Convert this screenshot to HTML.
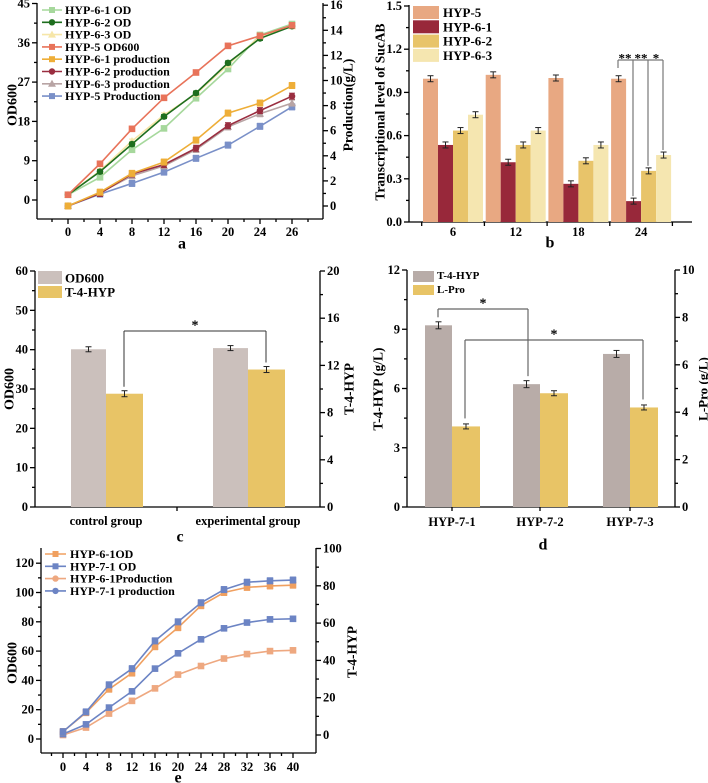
<!DOCTYPE html>
<html><head><meta charset="utf-8">
<style>
html,body{margin:0;padding:0;background:#fff;}
svg{display:block;font-family:"Liberation Serif",serif;font-weight:bold;}
</style></head>
<body>
<svg id="chart" width="708" height="783" viewBox="0 0 708 783" xmlns="http://www.w3.org/2000/svg"></svg>
<script>
// ---------- Panel a data ----------
const aTimes = ['0','4','8','12','16','20','24','26'];
const aOD61 = [1.2,5.2,11.5,16.4,23.3,30.0,37.8,40.3];
const aOD62 = [1.2,6.5,12.8,19.1,24.5,31.4,37.0,39.8];
const aOD63 = [1.2,6.7,13.5,19.5,24.3,31.0,37.5,39.8];
const aOD5 = [1.2,8.3,16.3,23.4,29.2,35.3,37.6,40.0];
const aP61 = [0,1.1,2.6,3.5,5.25,7.4,8.2,9.6];
const aP62 = [0,1.0,2.55,3.3,4.6,6.4,7.6,8.75];
const aP63 = [0,1.05,2.4,3.2,4.5,6.3,7.35,8.2];
const aP5 = [0,0.95,1.8,2.7,3.8,4.85,6.35,7.9];
const aLeftTicks = [0,9,18,27,36,45];
const aRightTicks = [0,2,4,6,8,10,12,14,16];
// ---------- Panel b data ----------
const bTimes = ['6','12','18','24'];
const bHYP5 = [0.995,1.022,1.0,0.995];
const bHYP61 = [0.535,0.415,0.265,0.145];
const bHYP62 = [0.635,0.535,0.425,0.355];
const bHYP63 = [0.745,0.635,0.535,0.465];
const bTicks = [0,0.3,0.6,0.9,1.2,1.5];
// ---------- Panel c data ----------
const cGroups = ['control group','experimental group'];
const cOD = [40.1,40.4];
const cHYP = [9.6,11.65];
const cLeftTicks = [0,10,20,30,40,50,60];
const cRightTicks = [0,4,8,12,16,20];
// ---------- Panel d data ----------
const dGroups = ['HYP-7-1','HYP-7-2','HYP-7-3'];
const dHYP = [9.2,6.22,7.75];
const dPro = [3.4,4.8,4.2];
const dLeftTicks = [0,3,6,9,12];
const dRightTicks = [0,2,4,6,8,10];
// ---------- Panel e data ----------
const eTimes = ['0','4','8','12','16','20','24','28','32','36','40'];
const eOD61 = [5,18,34,45,63,76,91,100,103.5,104.5,105];
const eOD71 = [5,18.5,37,48,67,80,93,102,107,108,108.5];
const eP61 = [0,4,11.5,18.3,25,32.4,37,41,43.4,45,45.4];
const eP71 = [0.5,5.7,14.7,23.4,35.6,43.8,51.3,57.2,60.3,62,62.3];
const eLeftTicks = [0,20,40,60,80,100,120];
const eRightTicks = [0,20,40,60,80,100];

const svg = document.getElementById('chart');
const NS = 'http://www.w3.org/2000/svg';
function mk(tag, attrs, name){
  const e = document.createElementNS(NS, tag);
  for (const k in attrs) e.setAttribute(k, attrs[k]);
  
  
  svg.appendChild(e);
  return e;
}
function line(x1,y1,x2,y2,name,stroke,w){
  return mk('line',{x1:x1,y1:y1,x2:x2,y2:y2,stroke:stroke||'#000','stroke-width':w||1.3},name);
}
function text(x,y,s,name,size,anchor,rot){
  const a = {x:x,y:y,'font-size':size||13,'text-anchor':anchor||'middle','dominant-baseline':'central',fill:'#000'};
  if (rot) a.transform = 'rotate(-90 '+x+' '+y+')';
  const t = mk('text',a,name);
  t.textContent = s;
  return t;
}
function errbar(x,y,h,name,col){
  line(x,y-h,x,y+h,name,col||'#222',1);
  line(x-3,y-h,x+3,y-h,name+'-cap',col||'#222',1);
  line(x-3,y+h,x+3,y+h,name+'-cap',col||'#222',1);
}
function yAxis(x,yTop,yBot,ticks,scale,side,fmt,name){
  line(x,yTop,x,yBot,name+'-line');
  ticks.forEach(function(v,i){
    const y = scale(v);
    const d = side==='left'? -5 : 5;
    line(x,y,x+d,y,name+'-tick');
    text(side==='left'? x-7 : x+7, y, fmt(v), name+'-label', 12.5, side==='left'?'end':'start');
    if (i < ticks.length-1){
      const ym = (y + scale(ticks[i+1]))/2;
      line(x,ym,x+d*0.6,ym,name+'-minor-tick');
    }
  });
}
function series(xs, vals, ys, col, name, marker, errs){
  const pts = vals.map(function(v,i){return xs(i)+','+ys(v);}).join(' ');
  mk('polyline',{points:pts,fill:'none',stroke:col,'stroke-width':1.6},name+'-line');
  vals.forEach(function(v,i){
    if (errs) errbar(xs(i), ys(v), errs, name+'-error', col);
    if (marker==='circle') mk('circle',{cx:xs(i),cy:ys(v),r:3.3,fill:col},name+'-point');
    else if (marker==='tri') mk('polygon',{points:(xs(i))+','+(ys(v)-4)+' '+(xs(i)-4)+','+(ys(v)+3)+' '+(xs(i)+4)+','+(ys(v)+3),fill:col},name+'-point');
    else mk('rect',{x:xs(i)-3.3,y:ys(v)-3.3,width:6.6,height:6.6,fill:col},name+'-point');
  });
}

// ================= Panel a =================
const xa = function(i){return 68 + 32*i;};
const ya = function(v){return 200 - v*39.3/9;};
const yaR = function(v){return 206 - v*12.55;};
yAxis(37,3,219,aLeftTicks,ya,'left',String,'a-left-axis');
yAxis(323,3,219,aRightTicks,yaR,'right',String,'a-right-axis');
line(37,219,323,219,'a-x-axis');
aTimes.forEach(function(t,i){
  line(xa(i),219,xa(i),224,'a-x-tick');
  line(xa(i)-16,219,xa(i)-16,222,'a-x-minor-tick');
  text(xa(i),232,t,'a-x-label',12.5);
});
line(xa(7)+16,219,xa(7)+16,222,'a-x-minor-tick');
text(13,105,'OD600','a-y-axis-title',14,'middle',true);
text(348,105,'Production(g/L)','a-right-axis-title',13.5,'middle',true);
text(182,244,'a','panel-a-label',16);
const aCols = {od61:'#a6d89c',od62:'#1e6e1e',od63:'#f6e6a8',od5:'#e8735a',p61:'#eeae38',p62:'#9a2e40',p63:'#b8a4a4',p5:'#7a90c8'};
series(xa,aP5,yaR,aCols.p5,'a-hyp5-production','square',3);
series(xa,aP63,yaR,aCols.p63,'a-hyp63-production','tri',3);
series(xa,aP62,yaR,aCols.p62,'a-hyp62-production','circle',3);
series(xa,aP61,yaR,aCols.p61,'a-hyp61-production','square',3);
series(xa,aOD61,ya,aCols.od61,'a-hyp61-od','square',2);
series(xa,aOD63,ya,aCols.od63,'a-hyp63-od','tri',2);
series(xa,aOD62,ya,aCols.od62,'a-hyp62-od','circle',2);
series(xa,aOD5,ya,aCols.od5,'a-hyp5-od600','square',2);
const aLeg = [['HYP-6-1 OD',aCols.od61,'square'],['HYP-6-2 OD',aCols.od62,'circle'],['HYP-6-3 OD',aCols.od63,'tri'],['HYP-5 OD600',aCols.od5,'square'],['HYP-6-1  production',aCols.p61,'square'],['HYP-6-2  production',aCols.p62,'circle'],['HYP-6-3 production',aCols.p63,'tri'],['HYP-5 Production',aCols.p5,'square']];
aLeg.forEach(function(l,i){
  const y = 10 + i*12.3;
  line(42,y,62,y,'a-legend-line',l[1],1.6);
  if (l[2]==='circle') mk('circle',{cx:52,cy:y,r:3.2,fill:l[1]},'a-legend-marker');
  else if (l[2]==='tri') mk('polygon',{points:'52,'+(y-4)+' 48,'+(y+3)+' 56,'+(y+3),fill:l[1]},'a-legend-marker');
  else mk('rect',{x:49,y:y-3,width:6,height:6,fill:l[1]},'a-legend-marker');
  text(65,y,l[0],'a-legend-entry',12,'start');
});

// ================= Panel b =================
const yb = function(v){return 222 - v*144;};
const xbC = function(i){return 453 + 62.7*i;};
yAxis(409,5,222,bTicks,yb,'left',function(v){return v.toFixed(1);},'b-left-axis');
line(409,222,692,222,'b-x-axis');
const bSeries = [[bHYP5,'#e8a882','hyp5'],[bHYP61,'#98283a','hyp61'],[bHYP62,'#e8c46a','hyp62'],[bHYP63,'#f5e6b0','hyp63']];
bTimes.forEach(function(t,i){
  const c = xbC(i);
  line(c-31.3,222,c-31.3,226,'b-x-tick');
  text(c,232,t,'b-x-label',12.5);
  bSeries.forEach(function(s,j){
    const x0 = c - 30 + 15*j;
    mk('rect',{x:x0,y:yb(s[0][i]),width:15,height:222-yb(s[0][i]),fill:s[1]},'b-bar-'+s[2]+'-'+t);
    errbar(x0+7.5,yb(s[0][i]),3,'b-error-'+s[2]);
  });
});
line(xbC(3)+31.3,222,xbC(3)+31.3,226,'b-x-tick');
text(380,112,'Transcriptional level of SucAB','b-y-axis-title',13.5,'middle',true);
text(550,243,'b','panel-b-label',16);
bSeries.forEach(function(s,i){
  mk('rect',{x:413,y:6+14.3*i,width:26,height:13,fill:s[1]},'b-legend-swatch');
  text(443,12.5+14.3*i,['HYP-5','HYP-6-1','HYP-6-2','HYP-6-3'][i],'b-legend-entry',13,'start');
});
line(618,60,663,60,'b-significance-line','#777',1.2);
line(618,60,618,68,'b-significance-line','#777',1.2);
line(633,60,633,yb(bHYP61[3])-5,'b-significance-line','#777',1.2);
line(648,60,648,yb(bHYP62[3])-5,'b-significance-line','#777',1.2);
line(663,60,663,yb(bHYP63[3])-5,'b-significance-line','#777',1.2);
text(625,58,'**','b-significance-star',13);
text(641,58,'**','b-significance-star',13);
text(656,58,'*','b-significance-star',13);

// ================= Panel c =================
const yc = function(v){return 507 - v*236/60;};
const ycR = function(v){return 507 - v*11.8;};
yAxis(35,271,507,cLeftTicks,yc,'left',String,'c-left-axis');
yAxis(320,271,507,cRightTicks,ycR,'right',String,'c-right-axis');
line(35,507,320,507,'c-x-axis');
line(177,507,177,511,'c-x-tick');
const cX = [71,213];
cGroups.forEach(function(g,i){
  mk('rect',{x:cX[i],y:yc(cOD[i]),width:35,height:507-yc(cOD[i]),fill:'#cbc0bc'},'c-bar-od600-'+i);
  errbar(cX[i]+17.5,yc(cOD[i]),2.5,'c-error-od600');
  mk('rect',{x:cX[i]+35,y:ycR(cHYP[i]),width:37,height:507-ycR(cHYP[i]),fill:'#e8c466'},'c-bar-t4hyp-'+i);
  errbar(cX[i]+53.5,ycR(cHYP[i]),3,'c-error-t4hyp');
  text(cX[i]+35,521,g,'c-x-label',12.5);
});
line(124,331,266,331,'c-significance-line','#333',1);
line(124,331,124,ycR(cHYP[0])-7,'c-significance-line','#333',1);
line(266,331,266,ycR(cHYP[1])-7,'c-significance-line','#333',1);
text(195,326,'*','c-significance-star',14);
mk('rect',{x:38,y:271,width:24,height:13,fill:'#cbc0bc'},'c-legend-swatch');
mk('rect',{x:38,y:286,width:24,height:12,fill:'#e8c466'},'c-legend-swatch');
text(65,278,'OD600','c-legend-entry',13,'start');
text(65,292,'T-4-HYP','c-legend-entry',13,'start');
text(10,389,'OD600','c-y-axis-title',14,'middle',true);
text(349,389,'T-4-HYP','c-right-axis-title',13.5,'middle',true);
text(180,537,'c','panel-c-label',16);

// ================= Panel d =================
const yd = function(v){return 507 - v*19.75;};
const ydR = function(v){return 507 - v*23.7;};
yAxis(407,270,507,dLeftTicks,yd,'left',String,'d-left-axis');
yAxis(675,270,507,dRightTicks,ydR,'right',String,'d-right-axis');
line(407,507,675,507,'d-x-axis');
const dX = [425,513,603];
dGroups.forEach(function(g,i){
  mk('rect',{x:dX[i],y:yd(dHYP[i]),width:27,height:507-yd(dHYP[i]),fill:'#b8aca8'},'d-bar-t4hyp-'+i);
  errbar(dX[i]+13.5,yd(dHYP[i]),3.5,'d-error-t4hyp');
  mk('rect',{x:dX[i]+27,y:ydR(dPro[i]),width:28,height:507-ydR(dPro[i]),fill:'#e8c466'},'d-bar-lpro-'+i);
  errbar(dX[i]+41,ydR(dPro[i]),2.5,'d-error-lpro');
  line(dX[i]+27,507,dX[i]+27,511,'d-x-tick');
  text(dX[i]+27,522,g,'d-x-label',12.5);
});
line(438,309,528,309,'d-significance-line','#666',1.2);
line(438,309,438,yd(dHYP[0])-8,'d-significance-line','#666',1.2);
line(528,309,528,yd(dHYP[1])-8,'d-significance-line','#666',1.2);
text(483,304,'*','d-significance-star',14);
line(465,340,643,340,'d-significance-line','#666',1.2);
line(465,340,465,ydR(dPro[0])-8,'d-significance-line','#666',1.2);
line(643,340,643,ydR(dPro[2])-8,'d-significance-line','#666',1.2);
text(554,335,'*','d-significance-star',14);
mk('rect',{x:413,y:271,width:21,height:11,fill:'#b8aca8'},'d-legend-swatch');
mk('rect',{x:413,y:285,width:21,height:10,fill:'#e8c466'},'d-legend-swatch');
text(437,276,'T-4-HYP','d-legend-entry',11,'start');
text(437,290,'L-Pro','d-legend-entry',11,'start');
text(378,389,'T-4-HYP (g/L)','d-y-axis-title',13.5,'middle',true);
text(703,389,'L-Pro (g/L)','d-right-axis-title',13,'middle',true);
text(543,545,'d','panel-d-label',16);

// ================= Panel e =================
const xe = function(i){return 63 + 23*i;};
const ye = function(v){return 739 - v*1.465;};
const yeR = function(v){return 735 - v*1.865;};
yAxis(41,548,753,eLeftTicks,ye,'left',String,'e-left-axis');
yAxis(316,548,753,eRightTicks,yeR,'right',String,'e-right-axis');
line(41,753,316,753,'e-x-axis');
eTimes.forEach(function(t,i){
  line(xe(i),753,xe(i),758,'e-x-tick');
  line(xe(i)-11.5,753,xe(i)-11.5,756,'e-x-minor-tick');
  text(xe(i),767,t,'e-x-label',12.5);
});
const eOr = '#f0a060', eBl = '#6c84c4', eOr2 = '#eea880';
series(xe,eP61,yeR,eOr2,'e-hyp61-production','square',2.5);
series(xe,eP71,yeR,eBl,'e-hyp71-production','square',2.5);
series(xe,eOD61,ye,eOr,'e-hyp61-od','square',3);
series(xe,eOD71,ye,eBl,'e-hyp71-od','square',3);
const eLeg = [['HYP-6-1OD',eOr],['HYP-7-1 OD',eBl],['HYP-6-1Production',eOr2],['HYP-7-1  production',eBl]];
eLeg.forEach(function(l,i){
  const y = 554 + i*12.3;
  line(45,y,66,y,'e-legend-line',l[1],1.6);
  if (i>1) mk('circle',{cx:55.5,cy:y,r:3.2,fill:l[1]},'e-legend-marker');
  else mk('rect',{x:52.5,y:y-3,width:6,height:6,fill:l[1]},'e-legend-marker');
  text(70,y,l[0],'e-legend-entry',12,'start');
});
text(13,663,'OD600','e-y-axis-title',14,'middle',true);
text(352,652,'T-4-HYP','e-right-axis-title',13.5,'middle',true);
text(178,778,'e','panel-e-label',16);
</script>
</body></html>
